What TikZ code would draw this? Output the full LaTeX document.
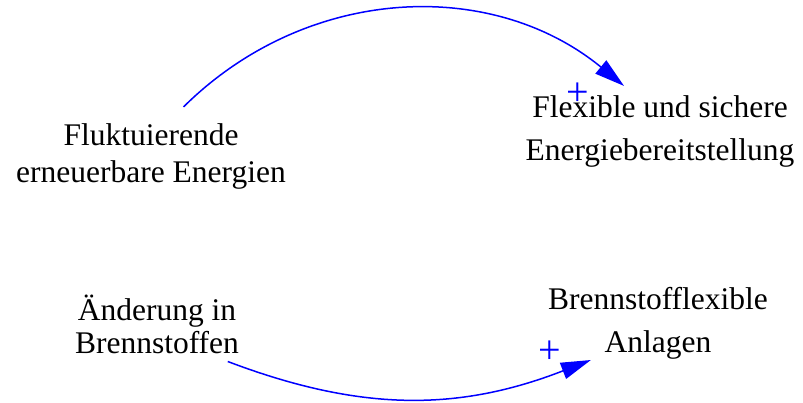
\documentclass[tikz,border=0pt]{standalone}
\usepackage{fontspec}
\setmainfont{Liberation Serif}[Ligatures=CommonOff]
\usetikzlibrary{arrows.meta}

\begin{document}
\begin{tikzpicture}[>={Triangle[length=30pt,width=17pt]}, x=1pt, y=1pt,
    var/.style={font=\fontsize{31.5}{35}\selectfont, align=center, anchor=base, inner xsep=4pt},
    link/.style={->, blue, line width=1.5pt},
    sign/.style={text=blue, font=\fontsize{40}{40}\selectfont, inner sep=0pt}]
  \useasboundingbox (0,0) rectangle (803,402);
  % variables
  \node[var, inner ysep=17pt] (fluk) at (151,219) {Fluktuierende\\[2pt]erneuerbare Energien};
  \node[var, inner ysep=10pt] (flex) at (660,241) {Flexible und sichere\\[8pt]Energiebereitstellung};
  \node[var, inner ysep=8pt] (aend) at (157,49) {Änderung in\\[-2pt]Brennstoffen};
  \node[var, inner ysep=1pt] (brenn) at (658,50) {Brennstofflexible\\[8pt]Anlagen};
  % links
  \draw[link] (fluk.57) to[bend left=42] node[sign, pos=1, xshift=-46pt, yshift=-8pt] (p1) {+} (flex.128);
  \draw[link] (aend.332) to[bend right=21] node[sign, pos=1, xshift=-41pt, yshift=8pt] (p2) {+} (brenn.209);
\end{tikzpicture}
\end{document}
